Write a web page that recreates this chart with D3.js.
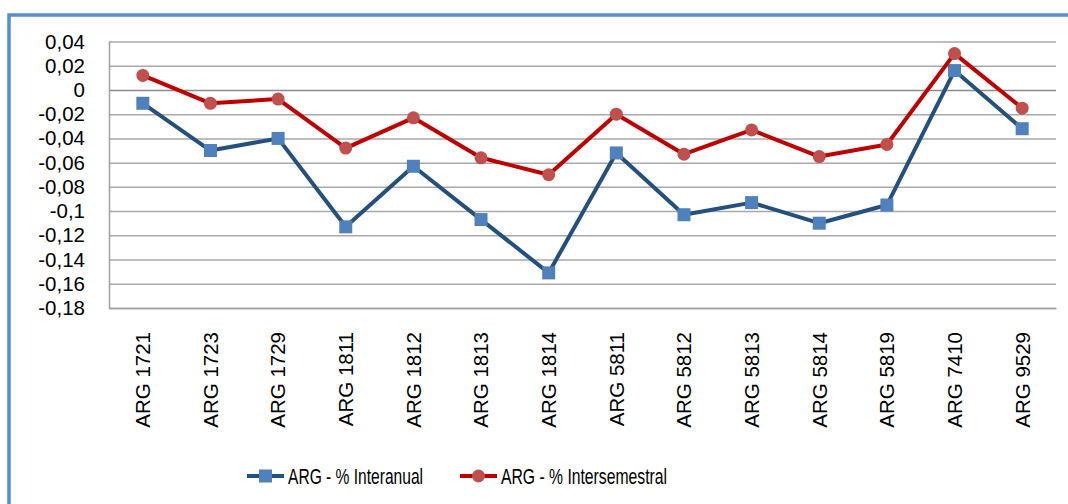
<!DOCTYPE html>
<html>
<head>
<meta charset="utf-8">
<script src="https://cdn.jsdelivr.net/npm/d3@7"></script>
<style>
  body { margin: 0; background: #fff; }
  svg { display: block; }
</style>
</head>
<body>
<svg id="chart"></svg>
<script>
// data
var categories = ["ARG 1721", "ARG 1723", "ARG 1729", "ARG 1811", "ARG 1812", "ARG 1813", "ARG 1814",
                  "ARG 5811", "ARG 5812", "ARG 5813", "ARG 5814", "ARG 5819", "ARG 7410", "ARG 9529"];
var interanual = [-0.011, -0.050, -0.040, -0.113, -0.063, -0.107, -0.151,
                  -0.052, -0.103, -0.093, -0.110, -0.095, 0.016, -0.032];
var intersemestral = [0.012, -0.011, -0.0075, -0.048, -0.023, -0.056, -0.070,
                      -0.020, -0.053, -0.033, -0.055, -0.045, 0.030, -0.015];
var yTicks = [0.04, 0.02, 0, -0.02, -0.04, -0.06, -0.08, -0.1, -0.12, -0.14, -0.16, -0.18];
var seriesNames = ["ARG - % Interanual", "ARG - % Intersemestral"];

var svgWidth = 1068, svgHeight = 504;
var margin = {top: 41.5, right: 12, bottom: 196, left: 109};
var width = svgWidth - margin.left - margin.right;
var height = svgHeight - margin.top - margin.bottom;

var svg = d3.select("#chart")
    .attr("width", svgWidth)
    .attr("height", svgHeight);

// outer frame (runs off the right and bottom edges)
svg.append("rect")
    .attr("x", 9)
    .attr("y", 15)
    .attr("width", svgWidth + 20)
    .attr("height", svgHeight + 20)
    .attr("fill", "none")
    .attr("stroke", "#558ED5")
    .attr("stroke-width", 3.5);

var g = svg.append("g")
    .attr("transform", "translate(" + margin.left + "," + margin.top + ")");

var x = d3.scaleBand()
    .domain(categories)
    .range([0, width]);

var y = d3.scaleLinear()
    .domain([-0.18, 0.04])
    .range([height, 0]);

var fmt = function(d) {
  if (d === 0) return "0";
  var s = d3.format(".2f")(d).replace("\u2212", "-").replace(".", ",");
  if (s.endsWith("0")) s = s.slice(0, -1);
  return s;
};

// gridlines
g.append("g")
    .attr("class", "grid")
    .call(d3.axisLeft(y).tickValues(yTicks).tickSize(-width).tickFormat(""))
    .call(function(sel) {
      sel.select(".domain").remove();
      sel.selectAll("line")
        .attr("stroke", function(d) { return d === 0 ? "#8c8c8c" : "#a9a9a9"; })
        .attr("stroke-width", 1.5);
    });

// y axis labels
g.append("g")
    .call(d3.axisLeft(y).tickValues(yTicks).tickSize(0).tickPadding(24).tickFormat(fmt))
    .call(function(sel) {
      sel.select(".domain").attr("stroke", "#a0a0a0").attr("stroke-width", 1.5);
      sel.selectAll("text")
        .attr("font-family", "'Liberation Sans', Arial, sans-serif")
        .attr("font-size", 20.5)
        .attr("fill", "#000");
    });

// x axis
g.append("g")
    .attr("transform", "translate(0," + height + ")")
    .call(d3.axisBottom(x).tickSize(0).tickPadding(0))
    .call(function(sel) {
      sel.select(".domain").attr("stroke", "#a0a0a0").attr("stroke-width", 1.5);
      sel.selectAll("text")
        .attr("font-family", "'Liberation Sans', Arial, sans-serif")
        .attr("font-size", 20.5)
        .attr("fill", "#000")
        .attr("transform", "rotate(-90)")
        .attr("x", -24)
        .attr("y", 0)
        .attr("dy", "0.36em")
        .style("text-anchor", "end");
    });

var series = [
  {name: seriesNames[0], values: interanual, line: "#24507F", marker: "#4F81BD", shape: "square"},
  {name: seriesNames[1], values: intersemestral, line: "#C00000", marker: "#C0504D", shape: "circle"}
];

var line = d3.line()
    .x(function(d, i) { return x(categories[i]) + x.bandwidth() / 2; })
    .y(function(d) { return y(d); });

function drawMarker(sel, s) {
  if (s.shape === "square") {
    sel.append("rect")
        .attr("x", -6.5).attr("y", -6.5)
        .attr("width", 13).attr("height", 13)
        .attr("fill", s.marker);
  } else {
    sel.append("circle")
        .attr("r", 6.5)
        .attr("fill", s.marker);
  }
}

series.forEach(function(s) {
  g.append("path")
      .datum(s.values)
      .attr("fill", "none")
      .attr("stroke", s.line)
      .attr("stroke-width", 4)
      .attr("stroke-linejoin", "round")
      .attr("d", line);

  g.selectAll(".pt-" + s.shape)
      .data(s.values)
      .enter().append("g")
      .attr("transform", function(d, i) {
        return "translate(" + (x(categories[i]) + x.bandwidth() / 2) + "," + y(d) + ")";
      })
      .each(function() { drawMarker(d3.select(this), s); });
});

// legend
var legendX = [247, 460];
var legendW = [135, 166];
var legend = svg.append("g")
    .selectAll("g")
    .data(series)
    .enter().append("g")
    .attr("transform", function(d, i) { return "translate(" + legendX[i] + ",476)"; });

legend.append("line")
    .attr("x1", 0).attr("x2", 37)
    .attr("stroke", function(d) { return d.line; })
    .attr("stroke-width", 4);

legend.append("g")
    .attr("transform", "translate(18.5,0)")
    .each(function(d) { drawMarker(d3.select(this), d); });

legend.append("text")
    .attr("x", 41)
    .attr("dy", "0.36em")
    .attr("font-family", "'Liberation Sans', Arial, sans-serif")
    .attr("font-size", 21.5)
    .attr("textLength", function(d, i) { return legendW[i]; })
    .attr("lengthAdjust", "spacingAndGlyphs")
    .attr("fill", "#000")
    .text(function(d) { return d.name; });
</script>
</body>
</html>
